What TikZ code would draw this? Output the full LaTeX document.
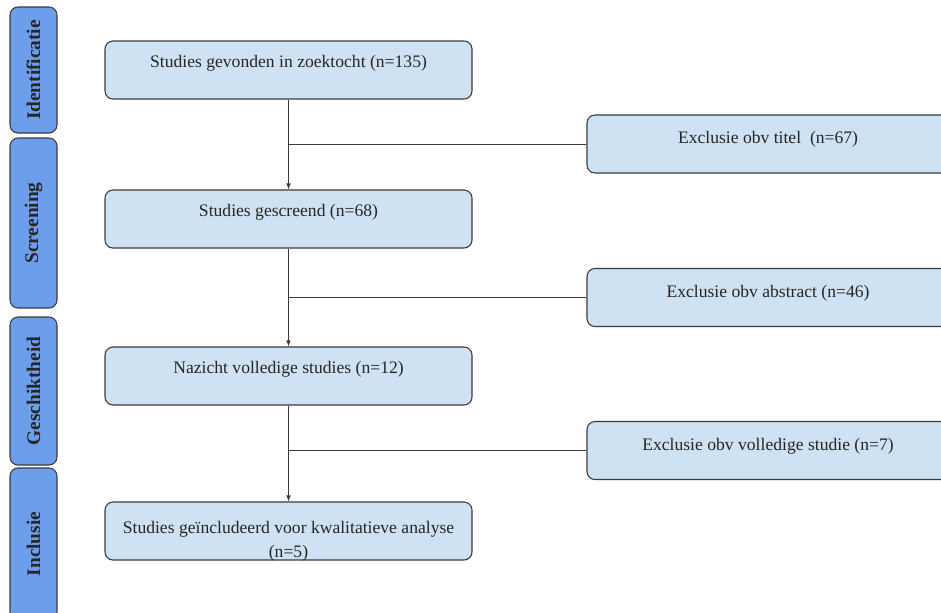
\documentclass[tikz,border=0pt]{standalone}
\usepackage{fontspec}
\setmainfont{Liberation Serif}
\usepackage{tikz}
\usetikzlibrary{arrows.meta}
\definecolor{stagecol}{HTML}{6D9EEB}
\definecolor{boxcol}{HTML}{CFE2F3}
\definecolor{linecol}{HTML}{3A3A3A}

\begin{document}
\begin{tikzpicture}[x=0.75pt,y=-0.75pt,
	stage/.style={draw=linecol,fill=stagecol,rounded corners=6pt,line width=0.8pt,
		rotate=90,minimum height=35.25pt,inner sep=0pt,text=black!85,
		font=\fontsize{14.5}{16}\selectfont\bfseries},
	flowbox/.style={draw=linecol,fill=boxcol,rounded corners=6pt,line width=0.8pt,
		minimum width=275.25pt,minimum height=43.5pt,inner sep=0pt,align=center,
		text=black!85,font=\fontsize{13.2}{18}\selectfont,
		text height=9.5pt,text depth=13.1pt},
	exbox/.style={flowbox,minimum width=271.5pt,text height=9.5pt,text depth=10.1pt},
	conn/.style={draw=linecol,line width=0.75pt}]
	\clip (0,0) rectangle (941,612);

	% fasen links
	\node[stage,minimum width=94.5pt] (fase1) at (33.5,70) {Identificatie};
	\node[stage,minimum width=127.5pt] (fase2) at (33.5,223) {Screening};
	\node[stage,minimum width=111pt] (fase3) at (33.5,391) {Geschiktheid};
	\node[stage,minimum width=114pt] (fase4) at (33.5,544) {Inclusie};

	% hoofdstroom
	\node[flowbox] (gevonden) at (288.5,70) {Studies gevonden in zoektocht (n=135)};
	\node[flowbox] (gescreend) at (288.5,219) {Studies gescreend (n=68)};
	\node[flowbox] (nazicht) at (288.5,376) {Nazicht volledige studies (n=12)};
	\node[flowbox,text height=41.5pt,text depth=1.5pt] (inclusie) at (288.5,531)
		{Studies geïncludeerd voor kwalitatieve analyse\\(n=5)};

	% exclusies
	\node[exbox] (extitel) at (768,144) {Exclusie obv titel\ \ (n=67)};
	\node[exbox] (exabstract) at (768,297.5) {Exclusie obv abstract (n=46)};
	\node[exbox] (exvolledig) at (768,450.5) {Exclusie obv volledige studie (n=7)};

	\draw[conn,-{Latex[length=4.5pt,width=3.5pt]}] (gevonden) -- (gescreend);
	\draw[conn,-{Latex[length=4.5pt,width=3.5pt]}] (gescreend) -- (nazicht);
	\draw[conn,-{Latex[length=4.5pt,width=3.5pt]}] (nazicht) -- (inclusie);

	\draw[conn] (gevonden.south |- extitel.west) -- (extitel.west);
	\draw[conn] (gescreend.south |- exabstract.west) -- (exabstract.west);
	\draw[conn] (nazicht.south |- exvolledig.west) -- (exvolledig.west);
\end{tikzpicture}
\end{document}
